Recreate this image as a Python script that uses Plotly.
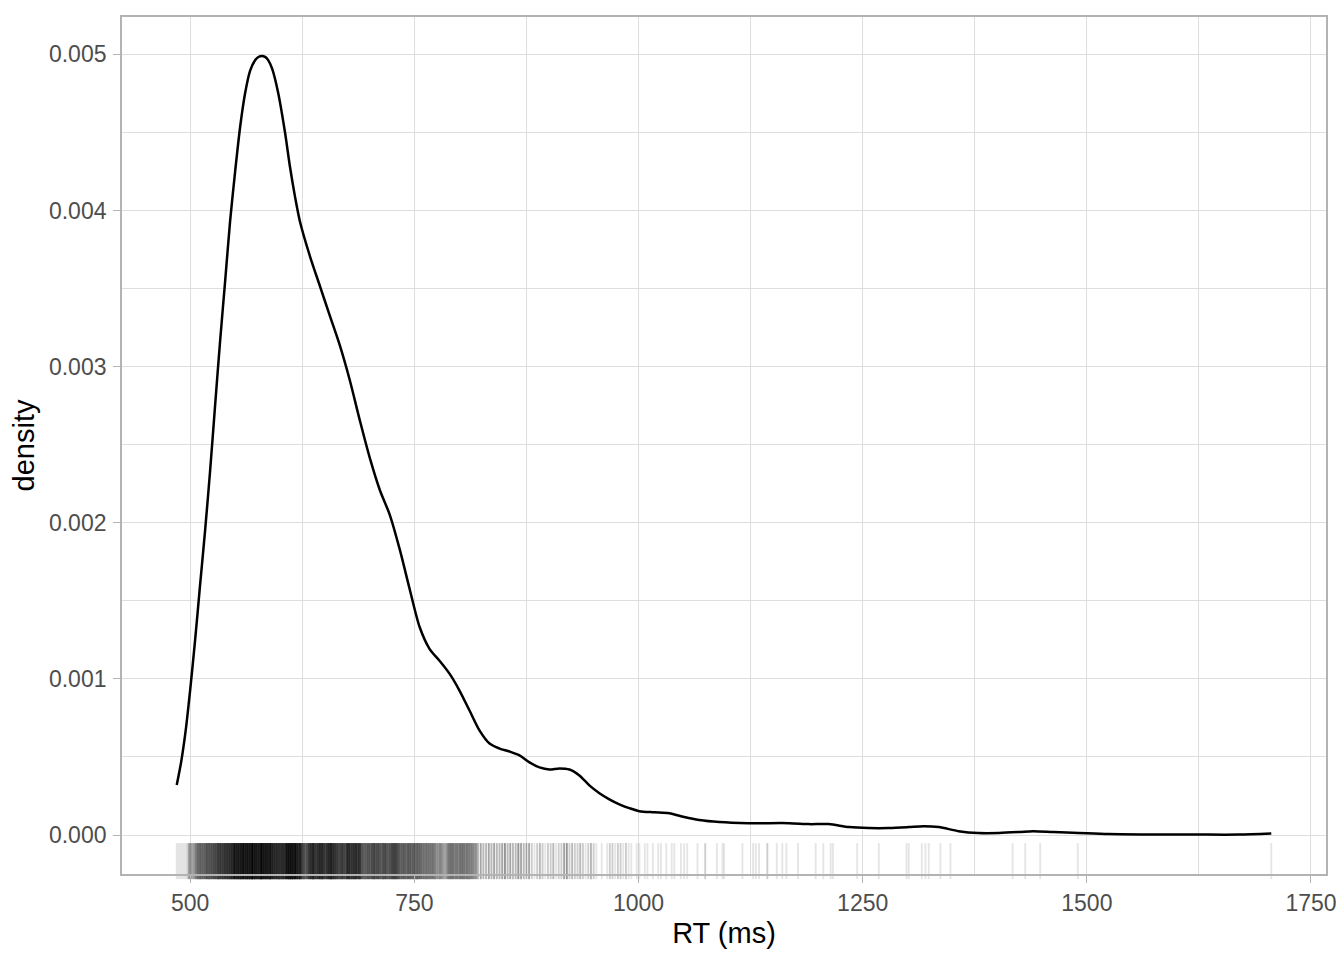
import numpy as np
import plotly.graph_objects as go

# ---- density curve ----
dens_x = [485, 490, 495, 500, 505.6, 511.1, 516.7, 522.3, 527.8, 533.4, 539.0, 544.5, 550.1,
          555.7, 561.2, 566.8, 572.4, 576.5, 580.1, 583.5, 586.8, 591.3, 598.0, 605.7, 611.3,
          616.9, 622.4, 633.6, 644.7, 655.8, 667.0, 678.1, 689.2, 700.4, 711.5, 722.6, 733.8,
          744.9, 756.0, 767.1, 778.3, 789.4, 800.5, 811.7, 822.8, 833.9, 845.1, 856.2,
          867.3, 878.5, 889.6, 900.7, 911.8, 923.0, 934.1, 945.2, 956.4, 967.5, 978.6,
          989.8, 1000.9, 1017.6, 1034.3, 1051.0, 1067.7, 1090, 1123, 1168, 1190, 1212,
          1235, 1257, 1279, 1301, 1318, 1335, 1357, 1379, 1402, 1424, 1440, 1463, 1491,
          1524, 1569, 1624, 1669, 1705.7]
dens_y = [0.000320, 0.000470, 0.000670, 0.000930, 0.001255, 0.001605, 0.001955, 0.002338,
          0.002752, 0.003166, 0.003548, 0.003930, 0.004248, 0.004535, 0.004750, 0.004895,
          0.004962, 0.004985, 0.004990, 0.004984, 0.004965, 0.004910, 0.004758, 0.004503,
          0.004280, 0.004089, 0.003930, 0.003707, 0.003516, 0.003325, 0.003134, 0.002911,
          0.002656, 0.002414, 0.002210, 0.002051, 0.001828, 0.001573, 0.001331, 0.001191,
          0.001115, 0.001032, 0.000924, 0.000796, 0.000669, 0.000586, 0.000554, 0.000535,
          0.000510, 0.000465, 0.000433, 0.000420, 0.000427, 0.000420, 0.000382, 0.000318,
          0.000268, 0.000229, 0.000197, 0.000172, 0.000153, 0.000146, 0.000140, 0.000115,
          0.000096, 0.000083, 0.000076, 0.000076, 0.000070, 0.000070, 0.000051, 0.000045,
          0.000045, 0.000051, 0.000057, 0.000051, 0.000025, 0.000013, 0.000013, 0.000019,
          0.000025, 0.000019, 0.000013, 0.000006, 0.000004, 0.000003, 0.000003, 0.000010]

# ---- rug: RT positions (ms) and number of trials at each ----
rug_ms = [485, 487, 489, 491, 493, 495, 497, 499, 501, 503,
          505, 507, 509, 511, 513, 515, 517, 519, 521, 523,
          525, 527, 529, 531, 533, 535, 537, 539, 541, 543,
          545, 547, 549, 551, 553, 555, 557, 559, 561, 563,
          565, 567, 569, 571, 573, 575, 577, 579, 581, 583,
          585, 587, 589, 591, 593, 595, 597, 599, 601, 603,
          605, 607, 609, 611, 613, 615, 617, 619, 621, 623,
          625, 627, 629, 631, 633, 635, 637, 639, 641, 643,
          645, 647, 649, 651, 653, 655, 657, 659, 661, 663,
          665, 667, 669, 671, 673, 675, 677, 679, 681, 683,
          685, 687, 689, 691, 693, 695, 697, 699, 701, 703,
          705, 707, 709, 711, 713, 715, 717, 719, 721, 723,
          725, 727, 729, 731, 733, 735, 737, 739, 741, 743,
          745, 747, 749, 751, 753, 755, 757, 759, 761, 763,
          765, 767, 769, 771, 773, 775, 777, 779, 781, 783,
          785, 787, 789, 791, 793, 795, 797, 799, 801, 803,
          805, 807, 809, 811, 813, 815, 817, 819,
          821, 824, 827, 830, 833, 836, 839, 842, 845, 848,
          851, 854, 857, 860, 863, 866, 869, 872, 875, 878,
          881, 884, 887, 890, 893, 896, 899, 902, 905, 908,
          911, 914, 917, 920, 923, 926, 929, 932, 935, 938,
          941, 944, 947, 950, 953, 956, 959, 962, 965, 968,
          971, 974, 977, 980, 983, 986, 989, 992, 995, 998,
          1001, 1004, 1007, 1010, 1013, 1016, 1019, 1022, 1025, 1028,
          1031, 1034, 1037, 1040, 1043,
          1047.3, 1050.9, 1054.3, 1065.8, 1074.4, 1087.4, 1093.6, 1095.5, 1115.9, 1127.8,
          1130.8, 1134.5, 1143.7, 1154.2, 1160.4, 1164.9, 1177.9, 1197.6, 1206.1, 1214.3,
          1216.8, 1243.9, 1268.0, 1298.9, 1301.4, 1315.9, 1320.0, 1323.7, 1336.7, 1347.9,
          1417.2, 1431.3, 1448.0, 1489.9, 1705.7]
rug_n = [1, 1, 1, 1, 1, 1, 2, 5, 4, 4,
         5, 7, 8, 8, 8, 8, 9, 10, 9, 10,
         10, 11, 11, 12, 13, 12, 13, 14, 13, 14,
         15, 16, 18, 17, 19, 18, 20, 19, 18, 20,
         19, 20, 21, 19, 20, 18, 19, 21, 20, 19,
         20, 19, 18, 17, 16, 15, 16, 14, 15, 16,
         15, 17, 20, 21, 21, 20, 19, 17, 16, 18,
         11, 10, 9, 11, 14, 15, 16, 14, 13, 15,
         16, 15, 14, 12, 15, 16, 17, 15, 14, 13,
         12, 11, 13, 12, 11, 14, 15, 13, 14, 15,
         14, 13, 15, 10, 9, 8, 9, 10, 9, 11,
         11, 10, 11, 10, 9, 10, 11, 10, 9, 10,
         11, 12, 12, 11, 9, 8, 9, 9, 8, 9,
         9, 8, 9, 8, 8, 8, 8, 7, 7, 7,
         7, 7, 7, 7, 6, 5, 5, 6, 5, 4,
         4, 6, 7, 7, 7, 6, 7, 6, 7, 7,
         7, 6, 7, 6, 6, 6, 5, 5,
         3, 4, 3, 3, 4, 3, 4, 3, 3, 4,
         5, 3, 4, 3, 3, 5, 4, 3, 3, 4,
         2, 1, 2, 3, 2, 1, 2, 2, 3, 1,
         2, 2, 4, 5, 2, 3, 2, 2, 3, 2,
         1, 2, 3, 2, 1, 0, 1, 0, 1, 2,
         2, 1, 2, 2, 1, 2, 1, 1, 0, 1,
         1, 0, 1, 1, 0, 1, 0, 1, 1, 0,
         1, 0, 1, 1, 0,
         1, 1, 1, 1, 2, 1, 1, 1, 1, 1,
         1, 1, 2, 1, 1, 1, 1, 1, 1, 1,
         1, 1, 1, 1, 1, 1, 1, 1, 1, 1,
         1, 1, 1, 1, 1]

x_ticks = [500, 750, 1000, 1250, 1500, 1750]
y_ticks = [0.000, 0.001, 0.002, 0.003, 0.004, 0.005]

FONT = "Liberation Sans, Arial, Helvetica, sans-serif"
# the page body has an 8px margin, so the figure is shifted by 8px
OFF = 8
W, H = 1344 - OFF, 960 - OFF
ML, MR, MT, MB = 122 - OFF, 16, 15 - OFF, 86

# ggplot-style 5% expansion
xmin, xmax = min(rug_ms), max(rug_ms)
xr = [xmin - 0.05 * (xmax - xmin), xmax + 0.05 * (xmax - xmin)]
ymax = max(dens_y)
yr = [-0.05 * ymax, ymax * 1.05]

panel_h = H - MT - MB
rug_len_px = 0.03 * panel_h
rug_y = yr[0] + 0.015 * (yr[1] - yr[0])

rug_x = np.repeat(np.array(rug_ms, dtype=float), np.array(rug_n))

fig = go.Figure()
fig.add_trace(go.Scatter(
    x=rug_x, y=np.full(len(rug_x), rug_y), mode="markers",
    marker=dict(symbol="line-ns", size=rug_len_px,
                line=dict(color="rgba(0,0,0,0.1)", width=1.9)),
    hoverinfo="skip", showlegend=False, cliponaxis=False))
fig.add_trace(go.Scatter(
    x=dens_x, y=dens_y, mode="lines",
    line=dict(color="black", width=2.5, shape="spline", smoothing=0.8),
    showlegend=False))

axis_common = dict(
    showline=True, mirror=True, linecolor="#b3b3b3", linewidth=1.8,
    ticks="outside", ticklen=7, tickcolor="#b3b3b3", tickwidth=1.4,
    showgrid=True, gridcolor="#dedede", gridwidth=1.4, zeroline=False,
    tickfont=dict(family=FONT, size=23, color="#4d4d4d"),
)
fig.update_layout(
    width=W, height=H,
    margin=dict(l=ML, r=MR, t=MT, b=MB),
    plot_bgcolor="white", paper_bgcolor="white",
    xaxis=dict(**axis_common, range=xr, tickvals=x_ticks, tickformat="d",
               minor=dict(showgrid=True, gridcolor="#dedede", gridwidth=0.7,
                          dtick=125, tick0=375),
               title=dict(text="RT (ms)", font=dict(family=FONT, size=29, color="black"),
                          standoff=8)),
    yaxis=dict(**axis_common, range=yr, tickvals=y_ticks, tickformat=".3f",
               ticklabelstandoff=2,
               minor=dict(showgrid=True, gridcolor="#dedede", gridwidth=0.7,
                          dtick=0.0005, tick0=0),
               title=dict(text="density", font=dict(family=FONT, size=29, color="black"),
                          standoff=6)),
)

fig.write_html("out.html")
